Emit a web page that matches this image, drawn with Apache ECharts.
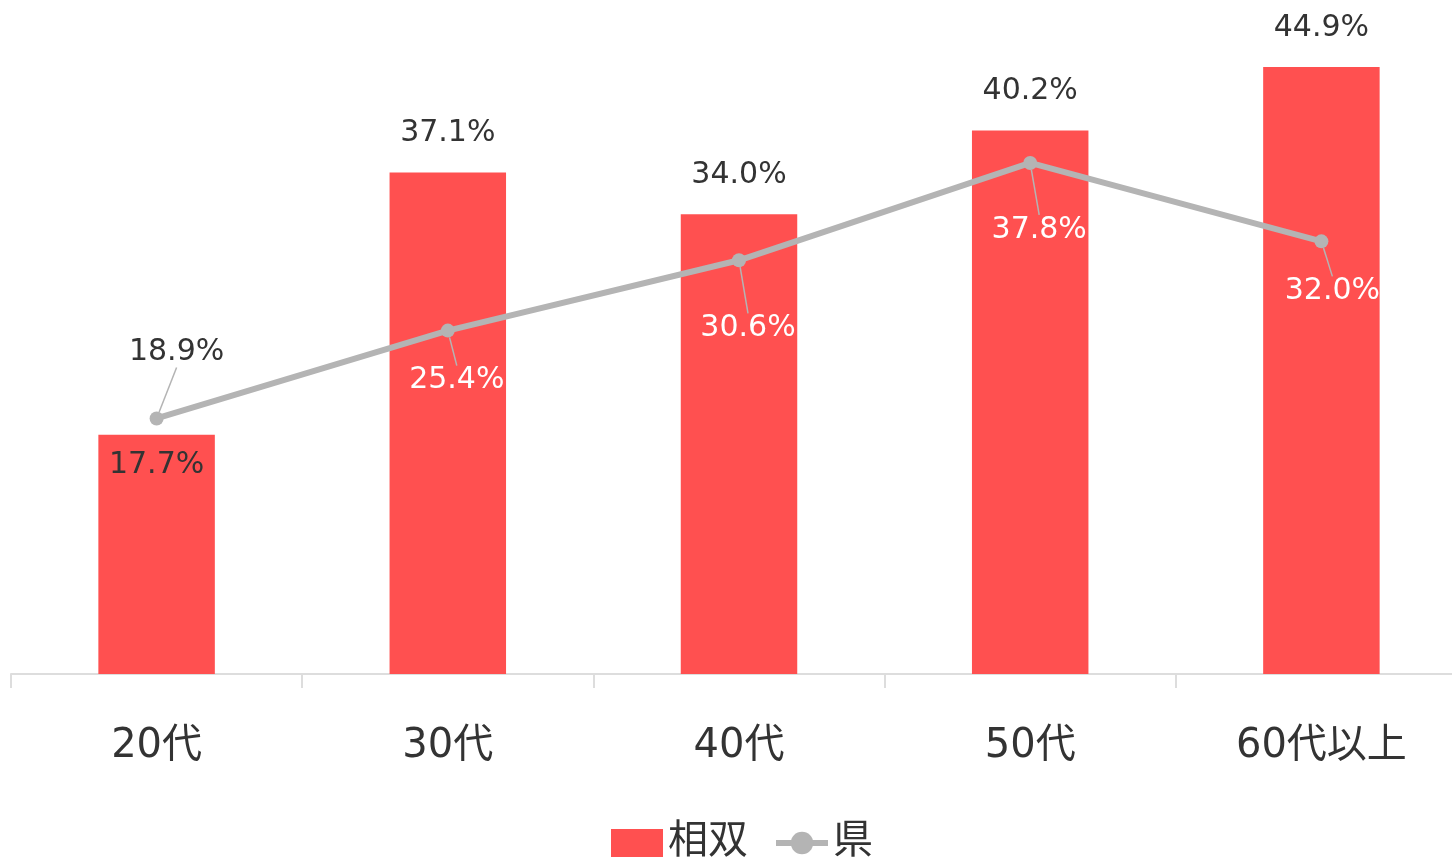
<!DOCTYPE html>
<html><head><meta charset="utf-8">
<script src="https://cdn.jsdelivr.net/npm/echarts@6/dist/echarts.min.js"></script>
<style>html,body{margin:0;padding:0;background:#fff}#c{width:1452px;height:858px}</style>
</head><body><div id="c"></div>
<script>
const categories = ['20代', '30代', '40代', '50代', '60代以上'];
const barValues = [17.7, 37.1, 34.0, 40.2, 44.9];
const lineValues = [18.9, 25.4, 30.6, 37.8, 32.0];
const seriesNames = ['相双', '県'];

// label style (not data)
const lineLabelShift = [[20, -44], [9, 72], [9, 90], [9, 89], [11, 72]];
const lineLabelColor = ['#333333', '#ffffff', '#ffffff', '#ffffff', '#ffffff'];
const barLabelInside = [true, false, false, false, false];

const FONT = '"DejaVu Sans", "Noto Sans CJK JP", sans-serif';
const chart = echarts.init(document.getElementById('c'));
chart.setOption({
  animation: false,
  textStyle: { fontFamily: FONT },
  grid: { left: 11, width: 1456, top: -2, bottom: 184, containLabel: false, outerBoundsMode: 'none' },
  legend: {
    bottom: -10, left: 606, itemWidth: 52, itemHeight: 28, itemGap: 25,
    textStyle: { fontSize: 40, color: '#333', fontFamily: FONT },
    data: [
      { name: seriesNames[0], icon: 'rect' },
      { name: seriesNames[1], lineStyle: { width: 6, color: '#b4b4b4' } }
    ]
  },
  xAxis: {
    type: 'category', data: categories,
    axisLine: { lineStyle: { color: '#dddddd', width: 2 } },
    axisTick: { show: true, length: 14, lineStyle: { color: '#dddddd', width: 2 } },
    axisLabel: { fontSize: 40, color: '#333', margin: 53, fontFamily: FONT }
  },
  yAxis: { type: 'value', min: 0, max: 50, show: false, splitLine: { show: false } },
  series: [
    {
      name: seriesNames[0], type: 'bar', barWidth: '40%',
      itemStyle: { color: '#ff5050' },
      data: barValues.map((v, i) => ({
        value: v,
        label: barLabelInside[i]
          ? { position: 'insideTop', distance: 16, color: '#333' }
          : { position: 'top', distance: 24, color: '#333' }
      })),
      label: { show: true, fontSize: 30, fontFamily: FONT, formatter: p => p.value.toFixed(1) + '%' }
    },
    {
      name: seriesNames[1], type: 'line', symbol: 'circle', symbolSize: 14,
      itemStyle: { color: '#b4b4b4' },
      lineStyle: { color: '#b4b4b4', width: 6 },
      data: lineValues.map((v, i) => ({ value: v, label: { color: lineLabelColor[i] } })),
      label: { show: true, position: 'top', distance: 0, fontSize: 30, fontFamily: FONT,
        formatter: p => p.value.toFixed(1) + '%' },
      labelLine: { show: true, lineStyle: { color: '#b4b4b4', width: 1.5 } },
      labelLayout: p => ({ dx: lineLabelShift[p.dataIndex][0], dy: lineLabelShift[p.dataIndex][1] }),
      z: 3
    }
  ]
});
</script></body></html>
